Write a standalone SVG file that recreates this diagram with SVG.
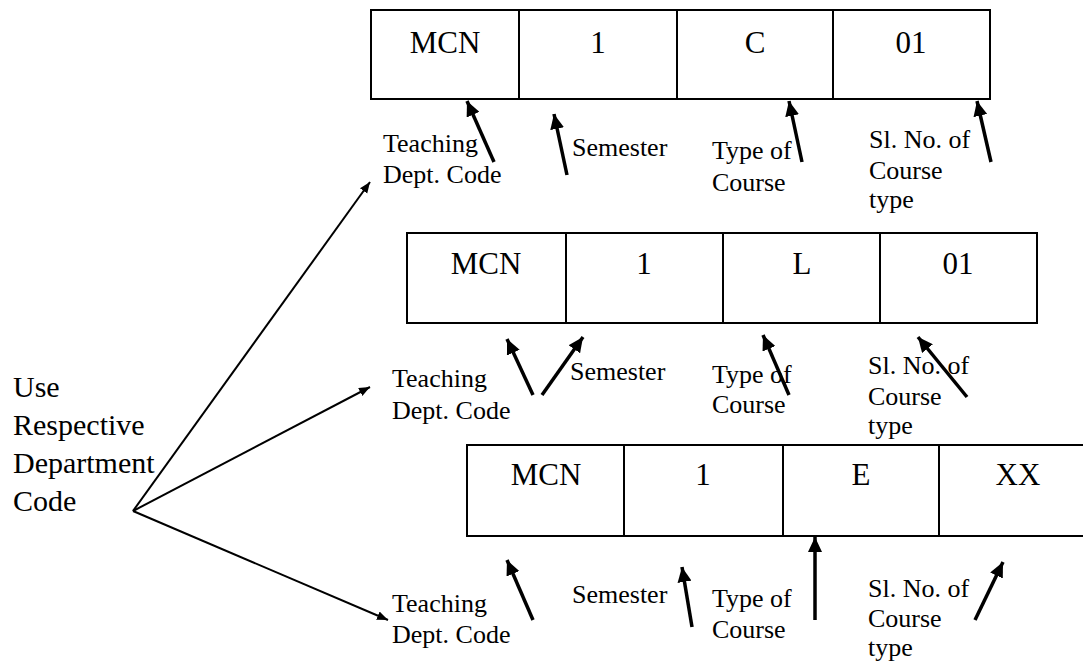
<svg xmlns="http://www.w3.org/2000/svg" width="1083" height="668" viewBox="0 0 1083 668">
<style>
.box{fill:#fff;stroke:#000;stroke-width:2}
.div{stroke:#000;stroke-width:2}
.cell{font-size:31px;text-anchor:middle}
.lbl{font-size:26px}
.big{font-size:30px}
.thick{stroke:#000;stroke-width:3.5;fill:none;marker-end:url(#hb)}
.thin{stroke:#000;stroke-width:2;fill:none;marker-end:url(#hs)}
</style>
<defs>
<marker id="hb" markerUnits="userSpaceOnUse" markerWidth="16" markerHeight="14" refX="15" refY="7" orient="auto">
<path d="M0,0 L15,7 L0,14 z" fill="#000"/>
</marker>
<marker id="hs" markerUnits="userSpaceOnUse" markerWidth="12" markerHeight="10" refX="11" refY="4.5" orient="auto">
<path d="M0,0 L11,4.5 L0,9 z" fill="#000"/>
</marker>
</defs>
<rect width="1083" height="668" fill="#fff"/>
<g font-family="Liberation Serif, DejaVu Serif, serif" fill="#000">
<g id="source">
<text class="big" x="13" y="397">Use</text>
<text class="big" x="13" y="435">Respective</text>
<text class="big" x="13" y="473">Department</text>
<text class="big" x="13" y="511">Code</text>
</g>

<g id="row1">
<rect class="box" x="371" y="10" width="619" height="89"/>
<line class="div" x1="519" y1="10" x2="519" y2="99"/>
<line class="div" x1="677" y1="10" x2="677" y2="99"/>
<line class="div" x1="833" y1="10" x2="833" y2="99"/>
<text class="cell" x="445" y="53">MCN</text>
<text class="cell" x="598" y="53">1</text>
<text class="cell" x="755" y="53">C</text>
<text class="cell" x="911" y="53">01</text>
<text class="lbl" x="383" y="152">Teaching</text>
<text class="lbl" x="383" y="183">Dept. Code</text>
<text class="lbl" x="572" y="156">Semester</text>
<text class="lbl" x="712" y="159">Type of</text>
<text class="lbl" x="712" y="191">Course</text>
<text class="lbl" x="869" y="148">Sl. No. of</text>
<text class="lbl" x="869" y="179">Course</text>
<text class="lbl" x="869" y="208">type</text>
</g>

<g id="row2">
<rect class="box" x="407" y="233" width="630" height="90"/>
<line class="div" x1="566" y1="233" x2="566" y2="323"/>
<line class="div" x1="723" y1="233" x2="723" y2="323"/>
<line class="div" x1="880" y1="233" x2="880" y2="323"/>
<text class="cell" x="486" y="274">MCN</text>
<text class="cell" x="644" y="274">1</text>
<text class="cell" x="802" y="274">L</text>
<text class="cell" x="958" y="274">01</text>
<text class="lbl" x="392" y="387">Teaching</text>
<text class="lbl" x="392" y="419">Dept. Code</text>
<text class="lbl" x="570" y="380">Semester</text>
<text class="lbl" x="712" y="383">Type of</text>
<text class="lbl" x="712" y="413">Course</text>
<text class="lbl" x="868" y="374">Sl. No. of</text>
<text class="lbl" x="868" y="405">Course</text>
<text class="lbl" x="868" y="434">type</text>
</g>

<g id="row3">
<rect class="box" x="467" y="445" width="629" height="91"/>
<line class="div" x1="624" y1="445" x2="624" y2="536"/>
<line class="div" x1="783" y1="445" x2="783" y2="536"/>
<line class="div" x1="939" y1="445" x2="939" y2="536"/>
<text class="cell" x="546" y="485">MCN</text>
<text class="cell" x="703" y="485">1</text>
<text class="cell" x="861" y="485">E</text>
<text class="cell" x="1018" y="485">XX</text>
<text class="lbl" x="392" y="612">Teaching</text>
<text class="lbl" x="392" y="643">Dept. Code</text>
<text class="lbl" x="572" y="603">Semester</text>
<text class="lbl" x="712" y="607">Type of</text>
<text class="lbl" x="712" y="638">Course</text>
<text class="lbl" x="868" y="597">Sl. No. of</text>
<text class="lbl" x="868" y="627">Course</text>
<text class="lbl" x="868" y="656">type</text>
</g>
</g>
<g id="connectors">
<line class="thin" x1="133" y1="511" x2="370" y2="182"/>
<line class="thin" x1="133" y1="511" x2="370" y2="387"/>
<line class="thin" x1="133" y1="511" x2="388" y2="620"/>

<line class="thick" x1="494" y1="162" x2="467" y2="101"/>
<line class="thick" x1="567" y1="175" x2="554" y2="114"/>
<line class="thick" x1="802" y1="162" x2="789" y2="101"/>
<line class="thick" x1="991" y1="162" x2="977" y2="101"/>

<line class="thick" x1="533" y1="395" x2="507" y2="339"/>
<line class="thick" x1="542" y1="395" x2="583" y2="337"/>
<line class="thick" x1="789" y1="395" x2="763" y2="335"/>
<line class="thick" x1="967" y1="397" x2="918" y2="337"/>

<line class="thick" x1="533" y1="620" x2="507" y2="560"/>
<line class="thick" x1="692" y1="627" x2="682" y2="567"/>
<line class="thick" x1="815" y1="620" x2="815" y2="537"/>
<line class="thick" x1="975" y1="620" x2="1003" y2="562"/>
</g>
</svg>
